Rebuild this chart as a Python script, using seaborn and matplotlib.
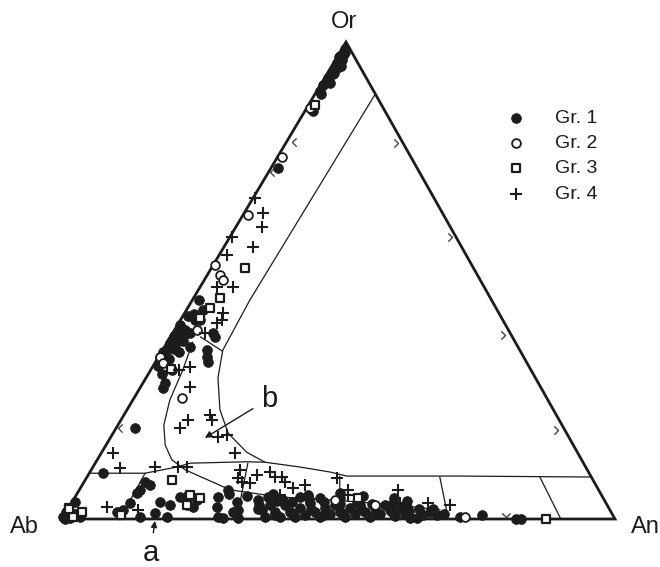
import numpy as np
import matplotlib
matplotlib.use("Agg")
import matplotlib.pyplot as plt
import seaborn as sns
from matplotlib.path import Path

sns.set_theme(style="white")
plt.rcParams['font.family'] = ['Liberation Sans', 'DejaVu Sans']

# ---------------- data (mol %: An, Or; Ab = 100 - An - Or) ----------------
gr1_an = [0.6, 1.0, 0.5, 1.2, 0.7, 1.4, 0.8, 1.2, 0.6, 1.0, 0.5, 0.8, 1.4, 1.3,
          0.9, 0.4, 1.6, 1.1, 0.9, 1.6, 0.5, 1.2,
          3.0, 3.5, 3.1, 0.75, 0.6, 0.3, 4.6, 8.0, 8.8, 9.5, 4.2, 4.0, 7.3, 0.4, 1.9,
          0.6, 1.5, 0.8, 0.3, 1.7, 2.6, 1.2, 8.1, 2.2, 1.0, 2.5,
          0.9, 1.8, 2.2, 0.5, 2.8, 1.3, 2.0, 0.8, 3.2,
          3.4, 2.5, 0.5, 0.0, 0.0, 1.4, 1.8, 0.5, 3.1,
          11.0, 12.3, 11.0, 10.7, 10.6, 9.2, 10.1, 15.9, 18.0, 19.0, 20.2, 21.1, 22.4,
          22.4, 16.2, 13.9, 18.8,
          26.9, 25.8, 26.7, 28.0, 29.0, 29.8, 30.9, 31.7, 30.2, 27.5, 31.0,
          33.4, 35.2, 36.5, 36.1, 37.8, 39.2, 38.8, 40.5, 41.9, 41.9, 43.5, 43.1, 45.0,
          46.4, 46.4, 47.9, 47.9, 49.5, 50.9, 50.9, 52.4, 52.4, 54.0, 55.5, 55.4, 57.0,
          56.9, 58.3, 59.9, 59.9, 61.5, 62.8, 64.1, 64.8, 65.8, 67.4, 71.8, 75.5,
          82.1, 83.0, 34.9, 40.7, 48.0, 44.4, 34.0, 38.0,
          34.5, 37.0, 38.0, 39.8, 41.0, 42.5, 44.0, 45.5, 47.0, 48.7, 50.0, 51.5, 53.0,
          54.5, 56.2, 58.0, 59.0, 61.0, 62.0, 63.5, 66.0, 68.5, 35.5, 42.0, 47.5, 52.0,
          57.8, 60.5]
gr1_or = [98.5, 97.8, 97.0, 96.2, 95.5, 94.8, 94.0, 93.2, 92.5, 91.8, 91.0, 86.0, 85.5, 73.6,
          97.4, 96.8, 95.0, 93.6, 92.0, 91.3, 89.8, 89.0,
          43.8, 41.7, 39.0, 39.0, 36.9, 34.0, 36.1, 35.4, 34.0, 32.9, 27.5, 28.5, 39.0, 40.7, 39.6,
          37.5, 37.9, 35.8, 35.0, 36.5, 41.7, 45.9, 38.2, 33.5, 32.0, 30.5,
          42.5, 43.0, 38.5, 38.3, 37.3, 34.2, 35.6, 33.0, 35.0,
          19.1, 9.6, 3.6, 0.4, 1.5, 0.2, 1.0, 0.0, 0.4,
          7.8, 7.1, 6.1, 5.5, 3.4, 1.5, 1.9, 3.6, 2.9, 4.6, 5.0, 2.9, 2.5,
          4.0, 1.3, 0.4, 0.4,
          6.1, 4.6, 2.5, 0.4, 0.2, 3.6, 1.9, 0.2, 1.5, 5.3, 4.8,
          4.0, 1.9, 0.4, 2.9, 1.5, 0.4, 2.9, 1.5, 0.4, 2.3, 0.8, 3.35, 1.5,
          0.4, 2.3, 1.05, 2.9, 1.5, 0.4, 2.3, 1.05, 2.9, 1.5, 0.4, 2.3, 1.05,
          2.9, 1.9, 0.6, 2.3, 1.05, 0.2, 0.2, 0.8, 1.5, 0.8, 0.4, 0.8,
          0.0, 0.0, 4.6, 4.6, 4.4, 4.4, 3.0, 4.0,
          2.0, 3.8, 0.9, 3.5, 1.2, 4.2, 2.0, 3.6, 0.9, 3.2, 1.2, 3.6, 2.0,
          3.2, 1.2, 3.0, 1.4, 2.6, 1.6, 2.0, 2.2, 1.0, 5.2, 5.0, 5.5, 4.8,
          4.4, 3.8]

gr2_an = [0.6, 0.8, 1.0, 0.3, 2.3, 4.1, 0.3, 1.5, 3.8, 8.6, 55.1, 47.3, 72.7, 3.5]
gr2_or = [86.2, 75.9, 63.7, 53.2, 51.2, 39.6, 34.0, 32.7, 31.2, 25.4, 2.9, 4.0, 0.4, 50.0]

gr3_an = [1.2, 6.1, 4.8, 4.0, 3.3, 3.6, 20.6, 22.7, 21.0, 15.7, 51.3, 87.5,
          0.0, 2.9, 1.8, 0.3, 10.3]
gr3_or = [86.8, 52.6, 46.3, 44.2, 42.1, 31.5, 5.0, 4.4, 3.0, 8.2, 4.4, 0.0,
          2.3, 1.5, 0.4, 2.0, 0.8]

gr4_an = [3.4, 4.7, 5.3, 0.3, 6.0, 7.5, 6.9, 6.9, 3.1, 6.8, 5.2, 8.9, 12.1, 15.6,
          11.5, 16.5, 19.4, 20.8, 24.2, 2.1, 5.0, 11.2, 6.8, 15.4, 17.0, 26.9, 28.6,
          27.4, 30.1, 30.5, 32.5, 34.0, 35.3, 36.3, 38.4, 40.3, 36.8, 45.3, 48.6,
          49.1, 57.6, 59.4, 64.5, 68.7, 12.8, 0.4, 1.4, 5.8]
gr4_or = [64.2, 61.2, 57.0, 67.3, 48.6, 41.7, 41.1, 43.2, 48.6, 31.9, 31.2, 27.7, 20.8, 21.8,
          19.1, 20.8, 17.2, 17.6, 13.8, 13.8, 10.7, 10.9, 2.5, 10.9, 10.9, 10.3, 7.8,
          8.6, 7.5, 9.2, 9.9, 8.8, 8.8, 7.8, 6.5, 7.1, 5.0, 8.6, 6.1,
          5.0, 6.1, 3.4, 3.4, 2.9, 1.9, 59.1, 55.3, 39.0]

# field boundaries
upper_an = [10.9, 10.4, 10.9, 13.0, 16.8, 20.8, 26.2, 30.6, 37.4, 43.4, 46.9, 67.3, 91.2]
upper_or = [89.1, 45.9, 35.4, 29.6, 22.9, 18.0, 14.0, 11.9, 10.9, 9.85, 9.0, 9.0, 8.8]
left_an = [0.0, 10.1, 15.2, 17.1, 27.3, 30.6]
left_or = [9.6, 9.6, 10.9, 11.7, 12.0, 11.9]
lower_an = [4.6, 5.8, 6.7, 8.3, 10.7, 13.5, 17.0, 27.3, 37.1, 46.4, 59.6, 67.4]
lower_or = [37.1, 31.2, 24.9, 19.7, 15.5, 12.4, 10.3, 6.1, 4.6, 4.0, 2.9, 1.9]
tie_an = [[5.4, 10.9], [10.1, 10.4], [27.6, 31.5], [45.6, 48.3], [63.8, 69.6], [81.9, 90.2]]
tie_or = [[38.2, 35.2], [9.6, 1.3], [11.7, 0.2], [9.0, 3.8], [8.8, 0.4], [8.8, 0.0]]

# small tie-line end marks
mark_r_an = [20.3, 40.2, 60.3, 80.1]
mark_r_or = [78.8, 59.1, 38.6, 18.7]
mark_l_an = [1.0, 0.3, 0.3]
mark_l_or = [79.0, 72.7, 19.1]
mark_d_an = [80.1]
mark_d_or = [0.4]

vertex_labels = ["Ab", "An", "Or"]
group_labels = ["Gr. 1", "Gr. 2", "Gr. 3", "Gr. 4"]

# ---------------- ternary projection ----------------
OX, OY = 0.5136, 0.8626


def tern(an, orr):
    an = np.asarray(an, float) / 100.0
    orr = np.asarray(orr, float) / 100.0
    return an + orr * OX, orr * OY


INK = "#1c1c1c"
fig = plt.figure(figsize=(6.6, 5.67), dpi=100)
ax = fig.add_axes([0, 0, 1, 1])
ax.set_xlim(-0.1121, 1.0814)
ax.set_ylim(-0.0868, 0.9385)
ax.axis("off")

# triangle
tx, ty = tern([0, 100, 0, 0], [0, 0, 100, 0])
ax.plot(tx, ty, color=INK, lw=2.0, solid_joinstyle="miter", zorder=3)

# boundaries
for a, o in [(upper_an, upper_or), (left_an, left_or), (lower_an, lower_or)]:
    x, y = tern(a, o)
    ax.plot(x, y, color=INK, lw=0.9, zorder=2)
for a, o in zip(tie_an, tie_or):
    x, y = tern(a, o)
    ax.plot(x, y, color=INK, lw=0.9, zorder=2)

# chevron marks
chev_r = Path([(-1, 1), (0, 0), (-1, -1)], [Path.MOVETO, Path.LINETO, Path.LINETO])
chev_l = Path([(1, 1), (0, 0), (1, -1)], [Path.MOVETO, Path.LINETO, Path.LINETO])
chev_d = Path([(-1, 1), (0, 0), (1, 1)], [Path.MOVETO, Path.LINETO, Path.LINETO])
for a, o, m in [(mark_r_an, mark_r_or, chev_r), (mark_l_an, mark_l_or, chev_l),
                (mark_d_an, mark_d_or, chev_d)]:
    x, y = tern(a, o)
    ax.plot(x, y, linestyle="none", marker=m, markersize=6, markerfacecolor="none",
            markeredgecolor="#444444", markeredgewidth=1.0, zorder=3)

# data points
x, y = tern(gr1_an, gr1_or)
sns.scatterplot(x=x, y=y, marker="o", s=50, color=INK, edgecolor=INK, linewidth=0.5,
                label=group_labels[0], ax=ax, zorder=5)
x, y = tern(gr2_an, gr2_or)
sns.scatterplot(x=x, y=y, marker="o", s=40, facecolor="white", edgecolor=INK, linewidth=1.3,
                label=group_labels[1], ax=ax, zorder=6)
x, y = tern(gr3_an, gr3_or)
sns.scatterplot(x=x, y=y, marker="s", s=40, facecolor="white", edgecolor=INK, linewidth=1.6,
                label=group_labels[2], ax=ax, zorder=6)
x, y = tern(gr4_an, gr4_or)
sns.scatterplot(x=x, y=y, marker="+", s=70, color=INK, linewidth=1.5,
                label=group_labels[3], ax=ax, zorder=7)

leg = ax.legend(loc="upper left", bbox_to_anchor=(0.767, 0.807), bbox_transform=fig.transFigure,
                frameon=False, fontsize=14, handlelength=1.0, handletextpad=1.5,
                labelspacing=0.39, borderpad=0, borderaxespad=0)
for t in leg.get_texts():
    t.set_color(INK)

# vertex labels
for lab, (a, o) in zip(vertex_labels, [(-6.0, -1.7), (106.3, -1.7), (-2.5, 104.2)]):
    px, py = tern(a, o)
    ax.text(px, py, lab, ha="center", va="center", fontsize=17, color=INK)

# annotations
ax.annotate("b", xy=tern(17.1, 17.0), xytext=tern(24.5, 25.2), ha="center", va="center",
            fontsize=21, color=INK,
            arrowprops=dict(arrowstyle="-|>", color=INK, lw=1.0, shrinkA=4, shrinkB=0,
                            mutation_scale=10))
ax.annotate("a", xy=tern(17.0, -0.4), xytext=tern(19.7, -7.1), ha="center", va="center",
            fontsize=21, color=INK,
            arrowprops=dict(arrowstyle="-|>", color=INK, lw=1.0, shrinkA=2, shrinkB=0,
                            mutation_scale=9))

fig.savefig("out.png", dpi=100, facecolor="white")
